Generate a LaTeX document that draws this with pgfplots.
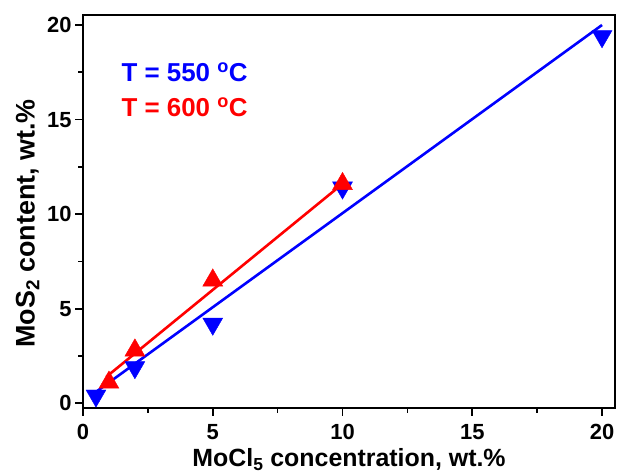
\documentclass[border=0pt]{standalone}
\usepackage{pgfplots}
\pgfplotsset{compat=1.18}
\usepackage{fontspec}
\setmainfont{Liberation Sans}

\begin{document}
\begin{tikzpicture}[x=1bp,y=1bp]
\useasboundingbox (0,0) rectangle (619,474);
\begin{axis}[
    at={(83bp,66bp)}, anchor=south west,
    scale only axis,
    width=532bp, height=393bp,
    xmin=0, xmax=20.5,
    ymin=-0.25, ymax=20.53,
    xtick={0,5,10,15,20},
    ytick={0,5,10,15,20},
    minor xtick={2.5,7.5,12.5,17.5},
    minor ytick={2.5,7.5,12.5,17.5},
    tick align=outside,
    tick pos=left,
    major tick length=8bp,
    minor tick length=5bp,
    every tick/.style={line width=1.6bp, black},
    axis line style={line width=1.6bp},
    /pgf/number format/assume math mode=true,
    tick label style={font=\fontsize{22}{22}\selectfont\bfseries},
    xticklabel style={yshift=-5bp},
    xlabel={MoCl\textsubscript{5} concentration, wt.\%},
    ylabel={MoS\textsubscript{2} content, wt.\%},
    xlabel style={font=\fontsize{25}{25}\selectfont\bfseries, yshift=-2bp},
    ylabel style={font=\fontsize{27}{27}\selectfont\bfseries, yshift=1bp, xshift=-12bp},
    clip=false,
]
% fit lines
\addplot[blue, line width=2.6bp, no marks] coordinates {(0.5,0.6) (20,20)};
\addplot[red, line width=2.6bp, no marks] coordinates {(0.9,1.4) (10,11.6)};

% T = 550 C
\addplot[only marks, blue, mark=triangle*, mark size=11.5bp,
    mark options={rotate=180, fill=blue, draw=blue}] coordinates {
    (0.5, 0.4)
    (2, 1.9)
    (5, 4.2)
    (10, 11.4)
    (20, 19.4)
};
% T = 600 C
\addplot[only marks, red, mark=triangle*, mark size=11.5bp,
    mark options={fill=red, draw=red}] coordinates {
    (1, 1.1)
    (2, 2.8)
    (5, 6.5)
    (10, 11.6)
};

\node[anchor=west, blue, font=\fontsize{26}{26}\selectfont\bfseries]
    at (axis cs:1.35,17.5) {T = 550 \textsuperscript{o}C};
\node[anchor=west, red, font=\fontsize{26}{26}\selectfont\bfseries]
    at (axis cs:1.35,15.65) {T = 600 \textsuperscript{o}C};
\end{axis}
\end{tikzpicture}
\end{document}
